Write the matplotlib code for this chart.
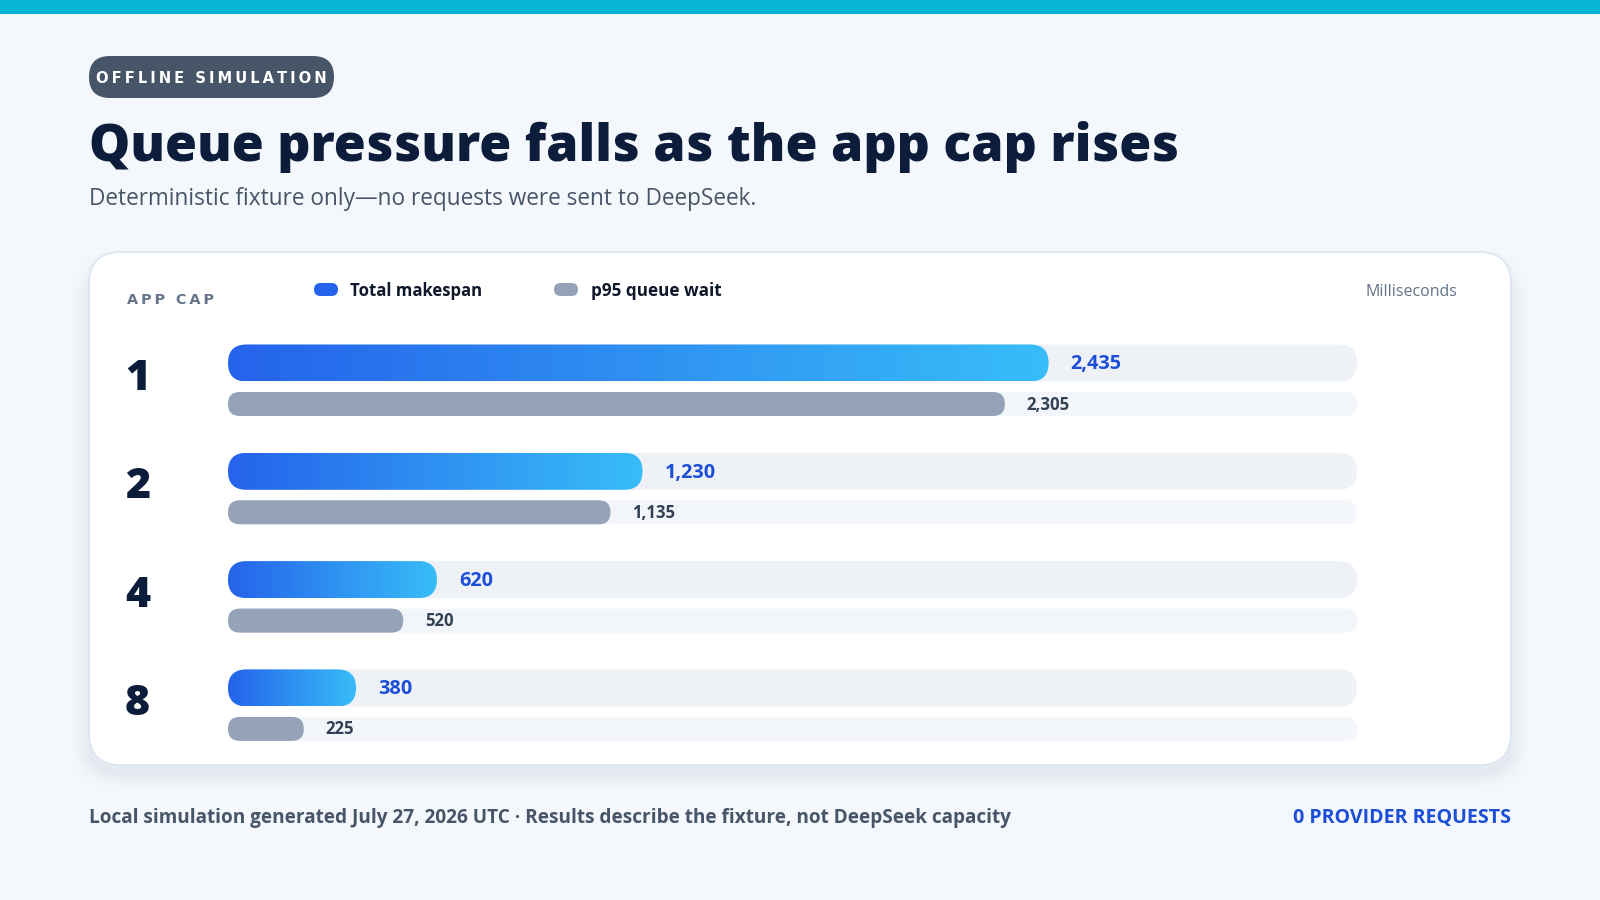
import matplotlib
matplotlib.use("Agg")
import matplotlib.pyplot as plt
import numpy as np
from matplotlib.patches import FancyBboxPatch, Rectangle
from matplotlib.colors import LinearSegmentedColormap

# chart data
app_caps = ["1", "2", "4", "8"]
makespan_ms = [2435, 1230, 620, 380]
p95_wait_ms = [2305, 1135, 520, 225]
axis_max_ms = 3350

W, H = 1600, 900
BG = "#f4f7fb"
NAVY = "#0b1d3a"
SLATE = "#475569"
MUTED = "#64748b"
BLUE = "#2563eb"
SKY = "#38bdf8"
GREY_BAR = "#94a3b8"
LINK_BLUE = "#1d4ed8"

BODY = ["Open Sans", "DejaVu Sans"]
HEAVY = ["Open Sans", "DejaVu Sans"]

fig = plt.figure(figsize=(16, 9), dpi=100, facecolor=BG)
canvas = fig.add_axes([0, 0, 1, 1])
canvas.set_xlim(0, W)
canvas.set_ylim(H, 0)
canvas.axis("off")
renderer = fig.canvas.get_renderer()


def fit_text(ax, x, y, s, width, size, **kw):
    # draw text, then rescale (twice) so it spans the wanted pixel width
    t = ax.text(x, y, s, fontsize=size, **kw)
    for _ in range(3):
        w = t.get_window_extent(renderer).width
        t.set_fontsize(t.get_fontsize() * width / w)
    return t


def spaced(s):
    return "\u2009".join(s)


def pill(ax, x, y, w, h, color, aspect=1.0, **kw):
    r = h / 2 / aspect
    p = FancyBboxPatch((x, y), w, h, boxstyle=f"round,pad=0,rounding_size={r}",
                       mutation_aspect=aspect, fc=color, ec="none", **kw)
    ax.add_patch(p)
    return p


# top accent strip
canvas.add_patch(Rectangle((0, 0), W, 14, color="#06b6d4", lw=0))

# badge
pill(canvas, 89, 56, 245, 42, "#475569")
fit_text(canvas, 211, 83, spaced("OFFLINE SIMULATION"), 228, 12, color="white",
         ha="center", va="baseline", fontweight="bold", family=["DejaVu Sans"])

# headline + subtitle
fit_text(canvas, 89, 161, "Queue pressure falls as the app cap rises", 1090, 40,
         color=NAVY, fontweight=800, family=HEAVY, va="baseline")
fit_text(canvas, 89, 205, "Deterministic fixture only\u2014no requests were sent to DeepSeek.",
         666, 17, color=SLATE, family=BODY, va="baseline")

# card with soft shadow, mostly below
for spread, alpha in [(18, 0.02), (12, 0.03), (7, 0.04), (3, 0.05)]:
    canvas.add_patch(FancyBboxPatch((89 - spread, 252 - spread + 16), 1422 + 2 * spread,
                                    513 + 2 * spread - 8,
                                    boxstyle=f"round,pad=0,rounding_size={32 + spread}",
                                    fc="#8ea0bd", ec="none", alpha=alpha))
canvas.add_patch(FancyBboxPatch((89, 252), 1422, 513, boxstyle="round,pad=0,rounding_size=32",
                                fc="white", ec="#dce4ef", lw=1.2))

# card header
fit_text(canvas, 127, 304, spaced("APP CAP"), 87, 11, color=MUTED, fontweight="bold",
         family=["DejaVu Sans"], va="baseline")
pill(canvas, 314, 283, 24, 13, BLUE)
fit_text(canvas, 350, 296, "Total makespan", 132, 13, color="#0f172a", fontweight="bold",
         family=BODY, va="baseline")
pill(canvas, 554, 283, 24, 13, GREY_BAR)
fit_text(canvas, 591, 296, "p95 queue wait", 130, 13, color="#0f172a", fontweight="bold",
         family=BODY, va="baseline")
fit_text(canvas, 1457, 296, "Milliseconds", 92, 11, color=MUTED, family=BODY,
         ha="right", va="baseline")

# bars live in their own axes: x in milliseconds, y in pixels
track_left, track_w = 228, 1129
bars = fig.add_axes([track_left / W, 0, track_w / W, 1])
bars.patch.set_alpha(0)
bars.axis("off")
px_per_ms = track_w / axis_max_ms

cmap = LinearSegmentedColormap.from_list("mk", [BLUE, SKY])
grad = np.linspace(0, 1, 256).reshape(1, -1)

# label sizes from the widest values
probe = fit_text(canvas, 0, -100, "2,435", 51, 13, fontweight="bold", family=BODY)
blue_size = probe.get_fontsize()
probe.remove()
probe = fit_text(canvas, 0, -100, "2,305", 43, 11, fontweight="bold", family=BODY)
grey_size = probe.get_fontsize()
probe.remove()

row_gap = 108.3
for i, (cap, mk, wait) in enumerate(zip(app_caps, makespan_ms, p95_wait_ms)):
    yb = 363 + i * row_gap      # makespan bar centre
    yg = yb + 41                # queue wait bar centre
    hb, hg = 37, 24

    canvas.text(125, yb + 27, cap, fontsize=31, fontweight=800, family=HEAVY,
                color=NAVY, va="baseline")

    pill(bars, 0, yb - hb / 2, axis_max_ms, hb, "#eef2f7", aspect=px_per_ms)
    pill(bars, 0, yg - hg / 2, axis_max_ms, hg, "#f2f5f9", aspect=px_per_ms)

    clip = pill(bars, 0, yb - hb / 2, mk, hb, "none", aspect=px_per_ms)
    im = bars.imshow(grad, extent=(0, mk, yb + hb / 2, yb - hb / 2), cmap=cmap,
                     aspect="auto", interpolation="bicubic", zorder=2)
    im.set_clip_path(clip)

    pill(bars, 0, yg - hg / 2, wait, hg, GREY_BAR, aspect=px_per_ms, zorder=2)

    bars.text(mk + 22 / px_per_ms, yb + 6.5, f"{mk:,}", fontsize=blue_size, fontweight="bold",
              family=BODY, color=LINK_BLUE, va="baseline")
    bars.text(wait + 22 / px_per_ms, yg + 5.5, f"{wait:,}", fontsize=grey_size,
              fontweight="bold", family=BODY, color="#334155", va="baseline")

bars.set_xlim(0, axis_max_ms)
bars.set_ylim(H, 0)

# footer
fit_text(canvas, 89, 823,
         "Local simulation generated July 27, 2026 UTC \u00b7 Results describe the fixture, not DeepSeek capacity",
         921, 13, color=SLATE, fontweight="bold", family=BODY, va="baseline")
fit_text(canvas, 1511, 823, "0 PROVIDER REQUESTS", 218, 13, color=LINK_BLUE,
         fontweight="bold", family=BODY, ha="right", va="baseline")

fig.savefig("out.png", dpi=100, facecolor=BG)
